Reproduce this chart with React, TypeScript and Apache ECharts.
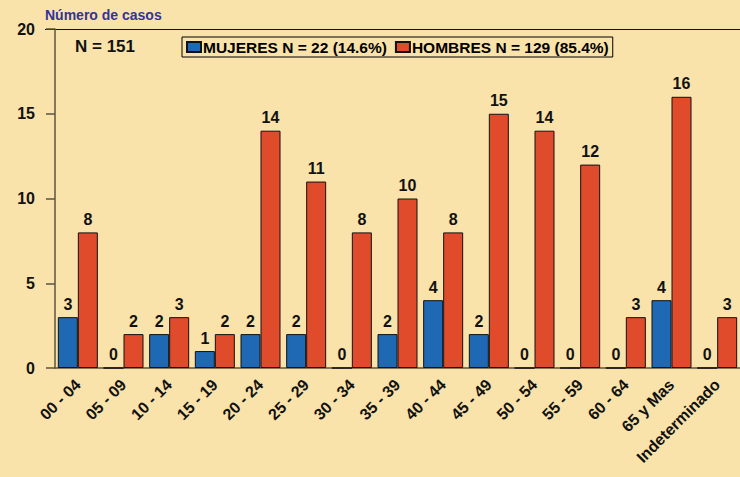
import React, { useEffect, useRef } from "react";
import * as echarts from "echarts";

const categories = [
  "00 - 04", "05 - 09", "10 - 14", "15 - 19", "20 - 24", "25 - 29", "30 - 34",
  "35 - 39", "40 - 44", "45 - 49", "50 - 54", "55 - 59", "60 - 64", "65 y Mas", "Indeterminado",
];
const mujeres = [3, 0, 2, 1, 2, 2, 0, 2, 4, 2, 0, 0, 0, 4, 0];
const hombres = [8, 2, 3, 2, 14, 11, 8, 10, 8, 15, 14, 12, 3, 16, 3];
const seriesNames = ["MUJERES N = 22 (14.6%)", "HOMBRES N = 129 (85.4%)"];
const yTicks = { min: 0, max: 20, interval: 5 };

const BG = "#F9E3AA";
const FONT = "Liberation Sans, Arial, sans-serif";

export default function App() {
  const ref = useRef<HTMLDivElement>(null);
  useEffect(() => {
    document.body.style.margin = "0";
    const chart = echarts.init(ref.current!, undefined, { renderer: "svg" });
    const label = {
      show: true,
      position: "top" as const,
      distance: 5,
      color: "#111",
      fontWeight: "bold" as const,
      fontSize: 16,
      fontFamily: FONT,
    };
    chart.setOption({
      animation: false,
      backgroundColor: BG,
      textStyle: { fontFamily: FONT },
      grid: { left: 55, right: -1, top: 29, bottom: 109, containLabel: false },
      legend: {
        left: 182,
        top: 37,
        data: seriesNames,
        icon: "rect",
        itemWidth: 14,
        itemHeight: 10,
        itemGap: 8,
        padding: [2, 4, 2, 4],
        borderColor: "#000",
        borderWidth: 1,
        backgroundColor: BG,
        textStyle: { color: "#000", fontWeight: "bold", fontSize: 15.5, fontFamily: FONT, padding: [0, 0, 0, -3] },
      },
      graphic: [
        {
          type: "text",
          left: 45,
          top: 8,
          style: { text: "Número de casos", fill: "#333399", font: `bold 14px ${FONT}` },
        },
        {
          type: "text",
          left: 75,
          top: 38,
          style: { text: "N = 151", fill: "#111", font: `bold 17px ${FONT}` },
        },
        {
          type: "line",
          shape: { x1: 45, y1: 29.5, x2: 740, y2: 29.5 },
          style: { stroke: "#111", lineWidth: 1 },
        },
      ],
      xAxis: {
        type: "category",
        data: categories,
        axisLine: { lineStyle: { color: "#5c5340", width: 1.5 } },
        axisTick: { alignWithLabel: true, length: 10, lineStyle: { color: "#5c5340", width: 1.5 } },
        axisLabel: {
          rotate: 45,
          interval: 0,
          margin: 14,
          color: "#111",
          fontWeight: "bold",
          fontSize: 16,
          fontFamily: FONT,
        },
      },
      yAxis: {
        type: "value",
        min: yTicks.min,
        max: yTicks.max,
        interval: yTicks.interval,
        splitLine: { show: false },
        axisLine: { show: true, lineStyle: { color: "#5c5340", width: 1.5 } },
        axisTick: { show: true, length: 9, lineStyle: { color: "#5c5340", width: 1.5 } },
        axisLabel: {
          margin: 20,
          color: "#111",
          fontWeight: "bold",
          fontSize: 16,
          fontFamily: FONT,
        },
      },
      series: [
        {
          name: seriesNames[0],
          type: "bar",
          data: mujeres,
          barWidth: 20,
          barGap: "0%",
          itemStyle: { color: "#1F69B4", borderColor: "#111", borderWidth: 1 },
          label,
        },
        {
          name: seriesNames[1],
          type: "bar",
          data: hombres,
          barWidth: 20,
          barGap: "0%",
          itemStyle: { color: "#E04B2C", borderColor: "#111", borderWidth: 1 },
          label,
        },
      ],
    });
    return () => chart.dispose();
  }, []);
  return <div ref={ref} style={{ width: 740, height: 477 }} />;
}
